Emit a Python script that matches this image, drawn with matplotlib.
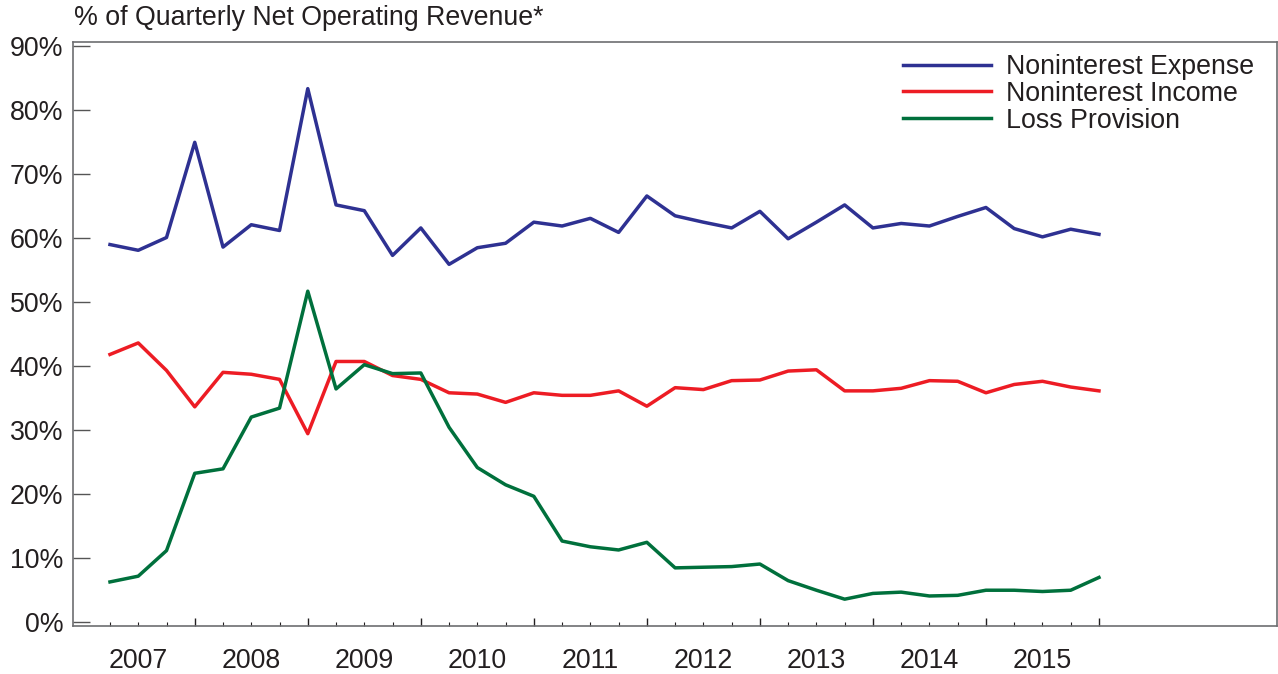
import matplotlib
matplotlib.use("Agg")
import matplotlib.pyplot as plt
import numpy as np

plt.rcParams['font.family'] = ['Liberation Sans', 'DejaVu Sans']

# quarterly data, 2007 Q1 .. 2015 Q4 (% of quarterly net operating revenue)
years = [2007, 2008, 2009, 2010, 2011, 2012, 2013, 2014, 2015]

nonint_expense = [59.0, 58.1, 60.1, 75.0, 58.6, 62.1, 61.2, 83.4,
                  65.2, 64.3, 57.3, 61.6, 55.9, 58.5, 59.2, 62.5,
                  61.9, 63.1, 60.9, 66.6, 63.5, 62.5, 61.6, 64.2,
                  59.9, 62.5, 65.2, 61.6, 62.3, 61.9, 63.4, 64.8,
                  61.5, 60.2, 61.4, 60.6]

nonint_income = [41.8, 43.6, 39.3, 33.6, 39.0, 38.7, 37.9, 29.4,
                 40.7, 40.7, 38.5, 37.9, 35.8, 35.6, 34.3, 35.8,
                 35.4, 35.4, 36.1, 33.7, 36.6, 36.3, 37.7, 37.8,
                 39.2, 39.4, 36.1, 36.1, 36.5, 37.7, 37.6, 35.8,
                 37.1, 37.6, 36.7, 36.1]

loss_provision = [6.2, 7.1, 11.1, 23.2, 23.9, 32.0, 33.4, 51.7,
                  36.4, 40.2, 38.8, 38.9, 30.4, 24.1, 21.4, 19.6,
                  12.6, 11.7, 11.2, 12.4, 8.4, 8.5, 8.6, 9.0,
                  6.4, 4.9, 3.5, 4.4, 4.6, 4.0, 4.1, 4.9,
                  4.9, 4.7, 4.9, 6.9]

labels = ["Noninterest Expense", "Noninterest Income", "Loss Provision"]
colors = ["#2E3192", "#ED1C24", "#00703C"]

FS = 19.3
TXT = '#231F20'

x = np.arange(len(nonint_expense))

fig = plt.figure(figsize=(12.78, 6.74), dpi=100)
ax = fig.add_axes([0.0571, 0.0712, 0.9421, 0.8665])

for series, lab, col in zip([nonint_expense, nonint_income, loss_provision], labels, colors):
    ax.plot(x, series, color=col, lw=2.5, label=lab)

ax.set_xlim(-1.31, 41.3)
ax.set_ylim(-0.7, 90.7)

ax.set_yticks(np.arange(0, 91, 10))
ax.set_yticklabels([f"{v}%" for v in range(0, 91, 10)])

ax.set_xticks(x[3::4])
ax.set_xticklabels([])
ax.set_xticks(x, minor=True)

ax.tick_params(axis='y', direction='in', length=12, width=1, color='#555555',
               labelsize=FS, pad=7, labelcolor=TXT)
ax.tick_params(axis='x', which='major', direction='in', length=6, width=1, color=TXT)
ax.tick_params(axis='x', which='minor', direction='in', length=3, width=0.8, color=TXT)

for s in ax.spines.values():
    s.set_color('#6D6E71')
    s.set_linewidth(1.2)

for k, yr in enumerate(years):
    ax.text(x[4 * k + 1], -0.06, str(yr), transform=ax.get_xaxis_transform(),
            ha='center', va='center', fontsize=FS, color=TXT)

fig.text(74 / 1278, 1 - 18 / 674, "% of Quarterly Net Operating Revenue*",
         ha='left', va='center', fontsize=FS, color=TXT)

leg = ax.legend(loc='upper left', bbox_to_anchor=(903 / 1278, 1 - 54 / 674),
                bbox_transform=fig.transFigure, frameon=False,
                fontsize=FS, handlelength=3.28, handletextpad=0.56,
                labelspacing=0.03, borderaxespad=0, borderpad=0)
for t in leg.get_texts():
    t.set_color(TXT)

fig.savefig("out.png", dpi=100)
